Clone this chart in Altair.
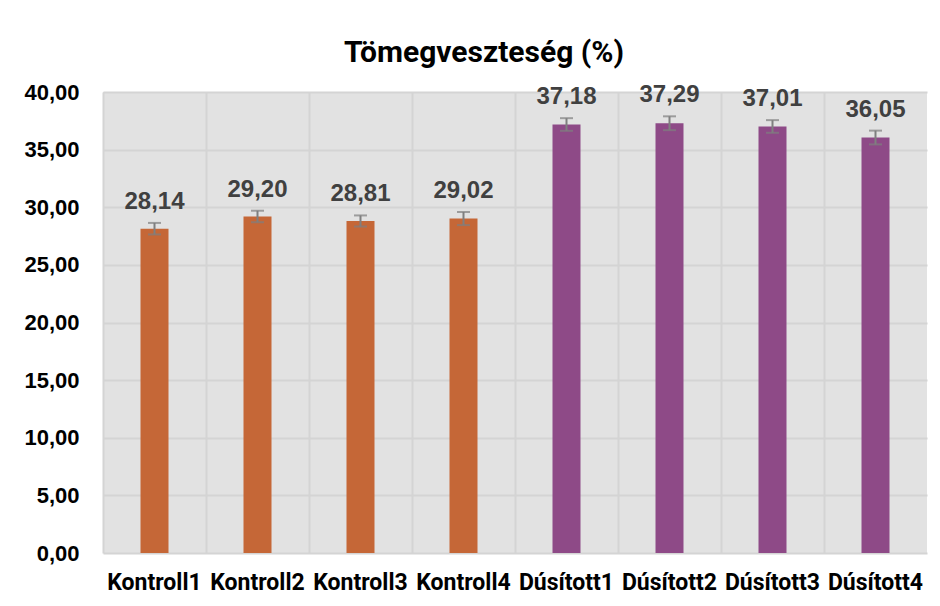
import altair as alt
import pandas as pd

categories = ["Kontroll1", "Kontroll2", "Kontroll3", "Kontroll4",
              "Dúsított1", "Dúsított2", "Dúsított3", "Dúsított4"]
groups = ["Kontroll"] * 4 + ["Dúsított"] * 4
values = [28.14, 29.20, 28.81, 29.02, 37.18, 37.29, 37.01, 36.05]
errors = [0.50, 0.50, 0.48, 0.57, 0.55, 0.60, 0.55, 0.60]

df = pd.DataFrame({"cat": categories, "group": groups, "value": values, "err": errors})
df["lo"] = df["value"] - df["err"]
df["hi"] = df["value"] + df["err"]

NARROW = "Roboto, sans-serif"
WIDE = "Liberation Sans, Arial, sans-serif"

x = alt.X("cat:N", sort=categories, title=None,
          scale=alt.Scale(paddingInner=0, paddingOuter=0),
          axis=alt.Axis(labelAngle=0, labelFont=NARROW, labelFontSize=23,
                        labelFontWeight="bold", labelColor="#000000",
                        labelPadding=18, ticks=False, domain=False,
                        grid=True, bandPosition=0, gridColor="#d4d4d4",
                        gridWidth=2))
yscale = alt.Scale(domain=[0, 40], nice=False)

base = alt.Chart(df).encode(x=x)

bars = base.mark_bar(size=28).encode(
    y=alt.Y("value:Q", scale=yscale, title=None,
            axis=alt.Axis(values=[0, 5, 10, 15, 20, 25, 30, 35, 40],
                          labelExpr="replace(format(datum.value, '.2f'), '.', ',')",
                          labelFont=WIDE, labelFontSize=22, labelFontWeight="bold",
                          labelColor="#000000", labelPadding=24,
                          ticks=False, domain=False, gridColor="#d4d4d4",
                          gridWidth=2)),
    color=alt.Color("group:N", scale=alt.Scale(domain=["Kontroll", "Dúsított"],
                                                range=["#C56737", "#8E4A87"]),
                    legend=None),
)

rules = base.mark_rule(color="#7f7f7f", strokeWidth=2).encode(
    y=alt.Y("lo:Q", scale=yscale), y2="hi:Q")
caps_hi = base.mark_tick(color="#7f7f7f", thickness=2, size=13).encode(
    y=alt.Y("hi:Q", scale=yscale))
caps_lo = base.mark_tick(color="#7f7f7f", thickness=2, size=13).encode(
    y=alt.Y("lo:Q", scale=yscale))

labels = base.transform_calculate(
    lbl="replace(format(datum.value, '.2f'), '.', ',')"
).mark_text(font=WIDE, fontSize=24, fontWeight="bold", color="#404040",
            baseline="bottom", dy=-9).encode(
    y=alt.Y("hi:Q", scale=yscale), text="lbl:N")

chart = alt.layer(bars, rules, caps_hi, caps_lo, labels).properties(
    width=824, height=461,
    background="#ffffff",
    autosize=alt.AutoSizeParams(type="none"),
    padding={"left": 95, "top": 84, "right": 5, "bottom": 45},
    title=alt.TitleParams("Tömegveszteség (%)", font=NARROW, fontSize=30,
                          fontWeight="bold", color="#000000", anchor="middle",
                          dx=-31, offset=13),
).configure_view(fill="#e2e2e2", stroke=None)

chart.save("out.html", embed_options={"renderer": "svg", "actions": False})
